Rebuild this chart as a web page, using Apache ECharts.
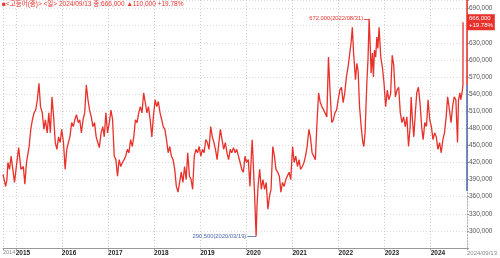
<!DOCTYPE html>
<html>
<head>
<meta charset="utf-8">
<script src="https://cdn.jsdelivr.net/npm/echarts@6/dist/echarts.min.js"></script>
<style>
html, body { margin: 0; padding: 0; background: #fff; }
#main { width: 500px; height: 258px; }
</style>
</head>
<body>
<div id="main"></div>
<script>
// 고등어(중) 일간 시세, 2014/09 ~ 2024/09
var dates = [
    '2014-09-22','2014-10-13','2014-10-23','2014-10-31','2014-11-13','2014-11-25','2014-12-09','2014-12-22',
    '2015-01-03','2015-01-24','2015-02-11','2015-03-02','2015-03-14','2015-03-27','2015-04-17','2015-04-30',
    '2015-05-13','2015-05-26','2015-06-08','2015-06-21','2015-07-04','2015-07-16','2015-07-30','2015-08-12',
    '2015-08-24','2015-09-07','2015-09-20','2015-10-02','2015-10-15','2015-10-28','2015-11-10','2015-11-23',
    '2015-12-06','2015-12-19','2015-12-31',
    '2016-01-14','2016-01-27','2016-02-09','2016-02-22','2016-03-05','2016-03-19','2016-04-01','2016-04-13',
    '2016-04-26','2016-05-10','2016-05-22','2016-06-04','2016-06-17','2016-06-30','2016-07-13','2016-07-26',
    '2016-08-08','2016-08-21','2016-09-03','2016-09-16','2016-09-29','2016-10-12','2016-10-24','2016-11-07',
    '2016-11-20','2016-12-02','2016-12-15','2016-12-28',
    '2017-01-11','2017-01-24','2017-02-06','2017-02-19','2017-03-04','2017-03-17','2017-03-30','2017-04-12',
    '2017-04-25','2017-05-08','2017-05-21','2017-06-03','2017-06-15','2017-06-29','2017-07-12','2017-07-24',
    '2017-08-06','2017-08-19','2017-09-01','2017-09-14','2017-09-27','2017-10-10','2017-10-23','2017-11-05',
    '2017-11-17','2017-12-01','2017-12-14','2017-12-26',
    '2018-01-09','2018-01-22','2018-02-03','2018-02-17','2018-03-02','2018-03-14','2018-03-27','2018-04-09',
    '2018-04-22','2018-05-05','2018-05-18','2018-05-31','2018-06-13','2018-06-26','2018-07-09','2018-07-22',
    '2018-08-04','2018-08-17','2018-08-30','2018-09-12','2018-09-24','2018-10-08','2018-10-21','2018-11-02',
    '2018-11-15','2018-11-28','2018-12-11','2018-12-24',
    '2019-01-06','2019-01-19','2019-02-01','2019-02-14','2019-02-27','2019-03-12','2019-03-25','2019-04-07',
    '2019-04-20','2019-05-02','2019-05-15','2019-05-29','2019-06-10','2019-06-23','2019-07-06','2019-07-19',
    '2019-08-01','2019-08-14','2019-08-27','2019-09-08','2019-09-22','2019-10-05','2019-10-17','2019-10-31',
    '2019-11-13','2019-11-26','2019-12-09','2019-12-22',
    '2020-01-03','2020-01-17','2020-01-30','2020-02-11','2020-02-17','2020-02-24','2020-03-08','2020-03-19',
    '2020-03-26','2020-04-03','2020-04-16','2020-04-29','2020-05-12','2020-05-25','2020-06-07','2020-06-20',
    '2020-07-03','2020-07-15','2020-07-29','2020-08-11','2020-08-23','2020-09-06','2020-09-19','2020-10-01',
    '2020-10-14','2020-10-27','2020-11-09','2020-11-22','2020-12-05','2020-12-18',
    '2021-01-02','2021-01-14','2021-01-27','2021-02-09','2021-02-22','2021-03-06','2021-03-20','2021-04-02',
    '2021-04-14','2021-04-27','2021-05-11','2021-05-23','2021-06-05','2021-06-18','2021-07-01','2021-07-14',
    '2021-07-27','2021-08-09','2021-08-22','2021-09-04','2021-09-16','2021-09-30','2021-10-13','2021-10-26',
    '2021-11-08','2021-11-21','2021-12-03','2021-12-16','2021-12-29',
    '2022-01-11','2022-01-24','2022-02-06','2022-02-19','2022-03-04','2022-03-17','2022-03-30','2022-04-12',
    '2022-04-20','2022-04-30','2022-05-15','2022-05-26','2022-06-05','2022-06-16','2022-06-29','2022-07-12',
    '2022-07-20','2022-07-30','2022-08-06','2022-08-14','2022-08-22','2022-08-31','2022-09-08','2022-09-16',
    '2022-09-26','2022-10-04','2022-10-12','2022-10-22','2022-10-31','2022-11-08','2022-11-18','2022-12-01',
    '2022-12-14','2022-12-27',
    '2023-01-09','2023-01-22','2023-02-03','2023-02-17','2023-03-02','2023-03-14','2023-03-27','2023-04-09',
    '2023-04-22','2023-05-05','2023-05-18','2023-05-31','2023-06-13','2023-06-26','2023-07-09','2023-07-22',
    '2023-07-30','2023-08-09','2023-08-20','2023-08-30','2023-09-12','2023-09-25','2023-10-08','2023-10-21',
    '2023-11-02','2023-11-15','2023-11-28','2023-12-11','2023-12-24',
    '2024-01-06','2024-01-19','2024-02-01','2024-02-14','2024-02-27','2024-03-11','2024-03-24','2024-04-06',
    '2024-04-19','2024-05-02','2024-05-14','2024-05-28','2024-06-10','2024-06-22','2024-07-05','2024-07-18',
    '2024-07-31','2024-08-08','2024-08-19','2024-08-26','2024-09-08','2024-09-12','2024-09-13'
];
var prices = [
    399000,378000,390000,420000,408000,431000,408000,385000,
    408000,446000,408000,413000,382000,420000,448000,478000,
    495000,507000,512000,530000,559000,518000,507000,478000,
    495000,472000,507000,472000,535000,500000,455000,443000,
    465000,455000,478000,
    455000,408000,443000,455000,465000,490000,483000,495000,
    504000,490000,495000,472000,495000,507000,556000,530000,
    512000,500000,483000,490000,465000,455000,446000,472000,
    483000,465000,507000,472000,
    490000,512000,495000,431000,425000,396000,425000,413000,
    420000,425000,431000,443000,437000,460000,448000,465000,
    495000,490000,507000,518000,507000,542000,525000,507000,
    518000,495000,465000,500000,
    530000,518000,527000,507000,495000,483000,478000,460000,
    437000,448000,431000,425000,408000,378000,368000,385000,
    403000,385000,413000,390000,437000,396000,390000,373000,
    431000,443000,437000,448000,
    431000,443000,437000,460000,455000,443000,483000,465000,
    455000,443000,425000,455000,478000,460000,443000,455000,
    437000,425000,443000,437000,446000,437000,443000,431000,
    420000,408000,403000,431000,
    420000,425000,378000,437000,460000,425000,356000,290500,
    344000,378000,408000,373000,390000,373000,385000,338000,
    361000,373000,448000,431000,408000,403000,396000,368000,
    385000,378000,390000,390000,403000,390000,
    448000,420000,431000,413000,425000,408000,413000,420000,
    431000,448000,478000,465000,437000,437000,425000,490000,
    542000,525000,518000,520000,507000,500000,605000,542000,
    490000,495000,507000,512000,530000,
    547000,552000,525000,542000,570000,587000,590000,634000,
    657000,612000,565000,594000,580000,518000,483000,455000,
    448000,472000,518000,565000,600000,672000,629000,577000,
    612000,570000,617000,605000,640000,620000,657000,605000,
    587000,559000,
    518000,547000,530000,540000,608000,590000,535000,547000,
    552000,507000,490000,500000,483000,500000,448000,483000,
    535000,495000,465000,500000,542000,552000,525000,483000,
    460000,490000,483000,530000,495000,
    483000,460000,472000,465000,443000,455000,437000,460000,
    472000,500000,535000,512000,490000,518000,535000,530000,
    455000,530000,542000,530000,547000,556000,666000
];
var yearLabels = ['2014','2015','2016','2017','2018','2019','2020','2021','2022','2023','2024','2024/09/13'];
var titleText = '■<고등어(중)> <일> 2024/09/13 종:666,000 ▲110,000 +19.78%';
var lastClose = 666000;
var prevClose = 556000;
var changeText = '+19.78%';
var rangeLow = 370000;

var red = '#e8312b';
var blue = '#4a68b0';
var font = '"Liberation Sans", "Noto Sans CJK KR", sans-serif';
var axisMin = '2014-09-22';
var axisMax = '2024-10-14';

function comma(v) {
    return String(v).replace(/\B(?=(\d{3})+(?!\d))/g, ',');
}
function slashDate(d) {
    return d.replace(/-/g, '/');
}

var maxIdx = 0, minIdx = 0;
for (var i = 0; i < prices.length; i++) {
    if (prices[i] > prices[maxIdx]) maxIdx = i;
    if (prices[i] < prices[minIdx]) minIdx = i;
}
function daysBefore(d, n) {
    var t = new Date(d + 'T00:00:00');
    t.setDate(t.getDate() - n);
    return t.getTime();
}

var chart = echarts.init(document.getElementById('main'));
var seriesData = dates.map(function (d, i) { return [d, prices[i]]; });

chart.setOption({
    animation: false,
    backgroundColor: '#fff',
    title: {
        text: titleText,
        left: 2, top: 1, padding: 0,
        textStyle: { fontSize: 6.5, color: red, fontWeight: 'normal', fontFamily: font }
    },
    grid: { left: 0, right: 27, top: 0, bottom: 10 },
    xAxis: {
        type: 'time',
        min: axisMin,
        max: axisMax,
        splitNumber: 10,
        minInterval: 365 * 24 * 3600 * 1000,
        axisLine: { lineStyle: { color: '#999' } },
        axisTick: { show: true, length: 2, lineStyle: { color: '#999' } },
        splitLine: { show: true, lineStyle: { color: '#ccc', type: [1, 2] } },
        axisLabel: {
            align: 'left',
            margin: 2,
            fontSize: 6.5,
            fontFamily: font,
            showMinLabel: true,
            showMaxLabel: true,
            hideOverlap: false,
            formatter: function (value) {
                var dt = new Date(value);
                var y = dt.getFullYear();
                if (value >= new Date(2024, 8, 20).getTime()) return '{e|' + yearLabels[yearLabels.length - 1] + '}';
                if (y < 2015) return '{d|' + yearLabels[0] + '}';
                return '{y|' + yearLabels[y - 2014] + '}';
            },
            rich: {
                y: { fontSize: 6.5, color: '#222', fontWeight: 'bold', fontFamily: font },
                d: { fontSize: 5.5, color: '#888', fontFamily: font },
                e: { fontSize: 6, color: '#888', fontFamily: font }
            }
        }
    },
    yAxis: {
        type: 'value',
        position: 'right',
        min: 270000,
        max: 705000,
        interval: 30000,
        axisLine: { show: true, lineStyle: { color: '#aaa', type: [1, 2] } },
        axisTick: { show: true, length: 2, lineStyle: { color: '#999' } },
        splitLine: { show: true, lineStyle: { color: '#ddd', type: [1, 2] } },
        axisLabel: {
            margin: 2,
            fontSize: 6.5,
            color: '#555',
            fontFamily: font,
            formatter: function (v) {
                if (v < 300000 || v > 690000 || v % 30000) return '';
                return comma(v);
            }
        }
    },
    series: [{
        type: 'line',
        data: seriesData,
        showSymbol: false,
        symbol: 'none',
        clip: false,
        lineStyle: { color: red, width: 1.3 },
        markLine: {
            silent: true,
            symbol: ['none', 'none'],
            data: [
                [
                    {
                        coord: [daysBefore(dates[maxIdx], 40), prices[maxIdx]],
                        lineStyle: { color: red, width: 0.8, type: 'solid' },
                        label: {
                            show: true, position: 'start', distance: 1,
                            formatter: comma(prices[maxIdx]) + '(' + slashDate(dates[maxIdx]) + ')',
                            color: red, fontSize: 5.8, fontFamily: font
                        }
                    },
                    { coord: [dates[maxIdx], prices[maxIdx]] }
                ],
                [
                    {
                        coord: [daysBefore(dates[minIdx], 70), prices[minIdx]],
                        lineStyle: { color: blue, width: 0.8, type: 'solid' },
                        label: {
                            show: true, position: 'start', distance: 1,
                            formatter: comma(prices[minIdx]) + '(' + slashDate(dates[minIdx]) + ')',
                            color: blue, fontSize: 5.8, fontFamily: font
                        }
                    },
                    { coord: [dates[minIdx], prices[minIdx]] }
                ],
                [
                    { coord: [axisMax, 705000], lineStyle: { color: red, width: 1.5, type: 'solid' }, label: { show: false } },
                    { coord: [axisMax, prevClose] }
                ],
                [
                    { coord: [axisMax, prevClose], lineStyle: { color: blue, width: 1.5, type: 'solid' }, label: { show: false } },
                    { coord: [axisMax, rangeLow] }
                ],
                [
                    {
                        coord: [daysBefore(axisMax, 1), lastClose],
                        lineStyle: { color: 'rgba(0,0,0,0)', width: 0 },
                        label: {
                            show: true, position: 'end', distance: 0,
                            formatter: comma(lastClose) + '\n' + changeText,
                            color: '#fff', backgroundColor: red,
                            fontSize: 6, lineHeight: 7, padding: [1, 2, 1, 2],
                            fontFamily: font
                        }
                    },
                    { coord: [axisMax, lastClose] }
                ]
            ]
        }
    }]
});
</script>
</body>
</html>
